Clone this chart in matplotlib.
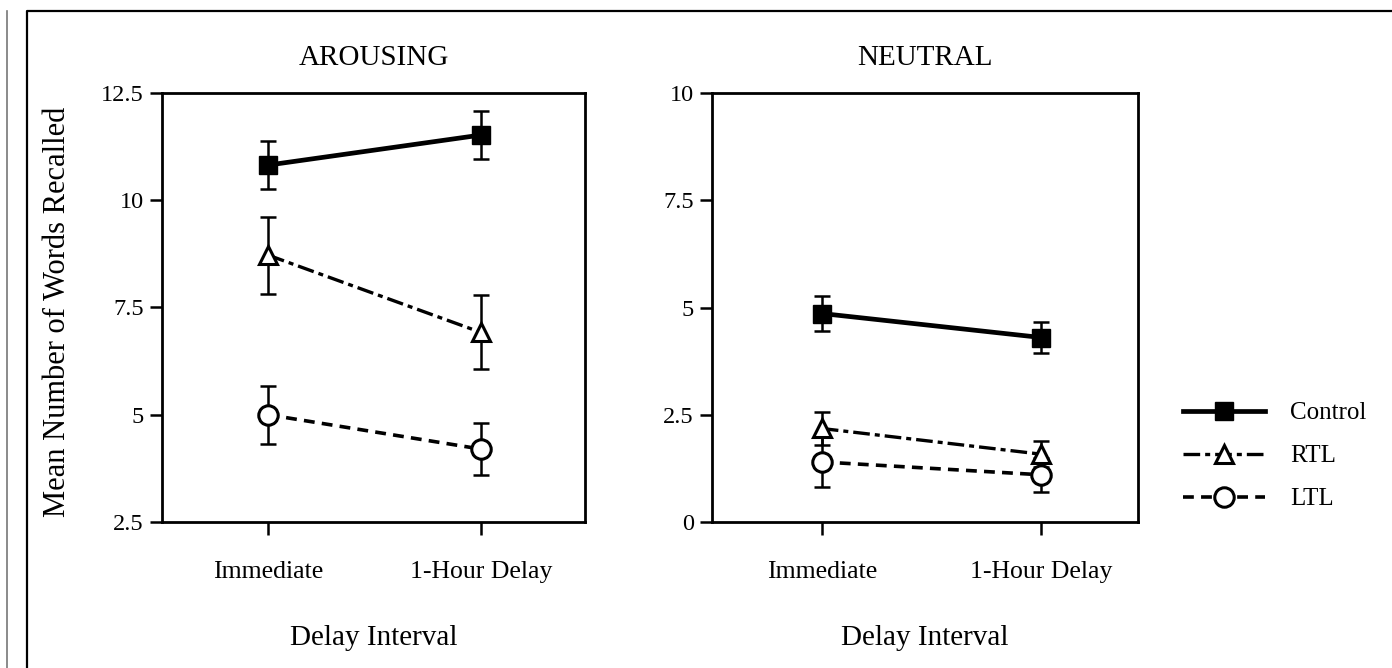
import matplotlib
matplotlib.use("Agg")
import matplotlib.pyplot as plt
from matplotlib.lines import Line2D
import numpy as np

plt.rcParams['font.family'] = ['Liberation Serif', 'DejaVu Serif']

conditions = ["Immediate", "1-Hour Delay"]
groups = ["Control", "RTL", "LTL"]

arousing_means = {"Control": [10.82, 11.52], "RTL": [8.72, 6.92], "LTL": [5.0, 4.2]}
arousing_err = {"Control": [0.55, 0.57], "RTL": [0.9, 0.86], "LTL": [0.68, 0.6]}
neutral_means = {"Control": [4.86, 4.3], "RTL": [2.18, 1.58], "LTL": [1.4, 1.1]}
neutral_err = {"Control": [0.4, 0.37], "RTL": [0.38, 0.3], "LTL": [0.58, 0.4]}

arousing_ticks = [2.5, 5, 7.5, 10, 12.5]
arousing_ticklabels = ["2.5", "5", "7.5", "10", "12.5"]
neutral_ticks = [0, 2.5, 5, 7.5, 10]
neutral_ticklabels = ["0", "2.5", "5", "7.5", "10"]

styles = {
    "Control": dict(ls='-', lw=3.4, marker='s', ms=13.5, mfc='black', mec='black'),
    "RTL": dict(ls=(0, (5, 1.5, 1.5, 1.5)), lw=2.4, marker='^', ms=13.5, mfc='white', mec='black', mew=2.2),
    "LTL": dict(ls=(0, (3, 2)), lw=2.6, marker='o', ms=14, mfc='white', mec='black', mew=2.2),
}

W, H = 1392, 668
fig = plt.figure(figsize=(W / 100, H / 100), dpi=100)

def px_axes(x0, y0, x1, y1):
    return fig.add_axes([x0 / W, 1 - y1 / H, (x1 - x0) / W, (y1 - y0) / H])

ax1 = px_axes(162, 93, 585, 522)
ax2 = px_axes(712, 93, 1138, 522)

def draw(ax, means, errs, ticks, ticklabels, ylim, title, xlim):
    x = np.arange(len(conditions))
    for g in groups:
        st = styles[g]
        ax.errorbar(x, means[g], yerr=errs[g], fmt='none', ecolor='black',
                    elinewidth=1.8, capsize=5.5, capthick=1.8, zorder=2)
        ax.plot(x, means[g], color='black', zorder=3, label=g, **st)
    ax.set_xlim(*xlim)
    ax.set_ylim(*ylim)
    ax.set_xticks(x)
    ax.set_xticklabels(conditions, fontsize=18.5)
    ax.set_yticks(ticks)
    ax.set_yticklabels(ticklabels, fontsize=17.5)
    ax.tick_params(axis='both', direction='out', length=9, width=1.8)
    ax.tick_params(axis='x', pad=19)
    ax.tick_params(axis='y', pad=4)
    for s in ax.spines.values():
        s.set_linewidth(2.0)
    ax.set_title(title, fontsize=21, pad=20)
    ax.set_xlabel("Delay Interval", fontsize=21, labelpad=30)

draw(ax1, arousing_means, arousing_err, arousing_ticks, arousing_ticklabels, (2.5, 12.5), "AROUSING", (-0.5, 1.49))
draw(ax2, neutral_means, neutral_err, neutral_ticks, neutral_ticklabels, (0, 10), "NEUTRAL", (-0.5, 1.44))
ax1.set_ylabel("Mean Number of Words Recalled", fontsize=22)
ax1.yaxis.set_label_coords((72 - 162) / 423, 0.49)

handles, labels = ax2.get_legend_handles_labels()
fig.legend(handles, labels, loc='center left', bbox_to_anchor=(1160 / W, 1 - 456 / H),
           frameon=False, fontsize=18, handlelength=3.3, labelspacing=0.82, handletextpad=1.0)

# outer frame
fig.add_artist(Line2D([27 / W, 27 / W, 1.0], [0, 1 - 11 / H, 1 - 11 / H], transform=fig.transFigure,
                      color='black', lw=1.6))
fig.add_artist(Line2D([7 / W, 7 / W], [0, 1 - 11 / H], transform=fig.transFigure, color='#777777', lw=1.2))

fig.savefig("out.png", dpi=100)
